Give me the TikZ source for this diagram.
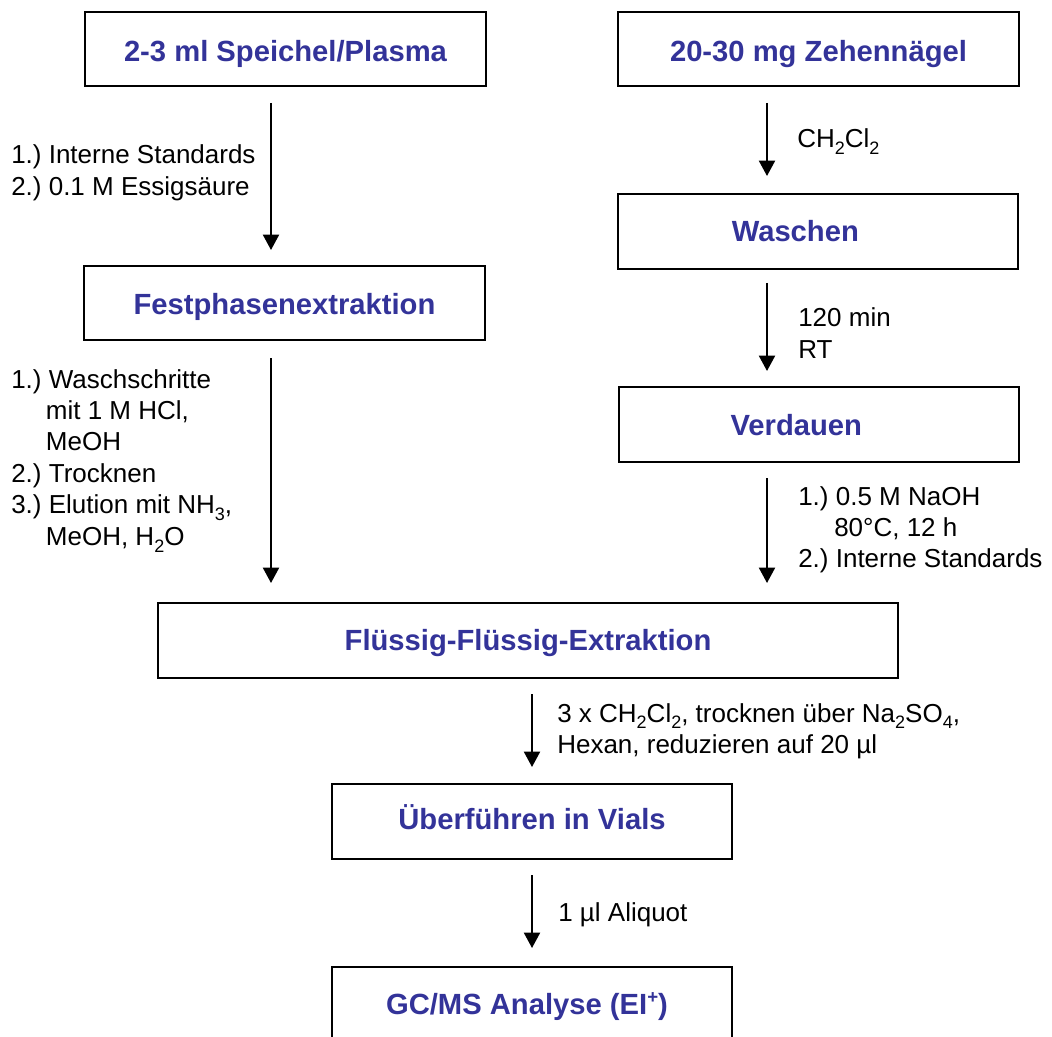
\documentclass[tikz,border=0pt]{standalone}
\usepackage{fontspec}
\setmainfont{Liberation Sans}
\usetikzlibrary{arrows.meta}
\definecolor{tblue}{RGB}{51,51,153}
\frenchspacing
\newcommand\sbs[1]{\raisebox{-5pt}{\fontsize{13.5pt}{13.5pt}\selectfont #1}}
\newcommand\sps[1]{\raisebox{8pt}{\fontsize{14pt}{14pt}\selectfont #1}}
\newcommand\mylines[1]{\begin{tabular}[t]{@{}l@{}}#1\end{tabular}}
\begin{document}
\begin{tikzpicture}[x=0.75pt,y=-0.75pt,
  box/.style={draw=black, line width=1.5pt, inner sep=0pt, text=tblue,
    font=\fontsize{21.9pt}{26pt}\selectfont\bfseries\frenchspacing, text depth=0pt},
  lbl/.style={anchor=base west, inner sep=0pt,
    font=\fontsize{19.5pt}{23.6pt}\selectfont\frenchspacing},
  arr/.style={line width=1.5pt, -{Triangle[length=11.5pt,width=12pt]}}]
\useasboundingbox (0,0) rectangle (1052,1037);
% boxes
\node[box, minimum width=300.75pt, minimum height=55.5pt, text height=19.5pt] (b1) at (285.5,49) {2-3 ml Speichel/Plasma};
\node[box, minimum width=300.75pt, minimum height=55.5pt, text height=19.5pt] (b2) at (818.5,49) {20-30 mg Zehennägel};
\node[box, minimum width=300pt, minimum height=56.25pt, text height=15.75pt] (wa) at (818,231.5) {Waschen\hspace*{34pt}};
\node[box, minimum width=300.75pt, minimum height=55.5pt, text height=18pt] (fe) at (284.5,303) {Festphasenextraktion};
\node[box, minimum width=300pt, minimum height=56.25pt, text height=15.75pt] (ve) at (819,424.5) {Verdauen\hspace*{34pt}};
\node[box, minimum width=555pt, minimum height=56.25pt, text height=14.25pt] (ff) at (528,640.5) {Flüssig-Flüssig-Extraktion};
\node[box, minimum width=300pt, minimum height=56.25pt, text height=12pt] (vi) at (532,821.5) {Überführen in Vials};
\node[box, minimum width=300pt, minimum height=56.25pt, text height=14.25pt] (gc) at (532,1004.5) {GC/MS Analyse (EI\sps{+})\hspace*{7.5pt}};
% arrow columns
\coordinate (xl) at (271,0);
\coordinate (xr) at (767,0);
\coordinate (xc) at (532,0);
% arrows
\draw[arr, shorten <=12pt, shorten >=11.25pt] (b1.south -| xl) -- (fe.north -| xl);
\draw[arr, shorten <=12.75pt, shorten >=14.25pt] (fe.south -| xl) -- (ff.north -| xl);
\draw[arr, shorten <=12pt, shorten >=12.75pt] (b2.south -| xr) -- (wa.north -| xr);
\draw[arr, shorten <=9.75pt, shorten >=11.25pt] (wa.south -| xr) -- (ve.north -| xr);
\draw[arr, shorten <=11.25pt, shorten >=14.25pt] (ve.south -| xr) -- (ff.north -| xr);
\draw[arr, shorten <=11.25pt, shorten >=12pt] (ff.south -| xc) -- (vi.north -| xc);
\draw[arr, shorten <=11.25pt, shorten >=13.5pt] (vi.south -| xc) -- (gc.north -| xc);
% labels
\node[lbl] (l1) at (11,164) {\mylines{1.) Interne Standards\\2.) 0.1 M Essigsäure}};
\node[lbl] (l2) at (11,388) {\mylines{1.) Waschschritte\\\hspace*{26pt}mit 1 M HCl,\\\hspace*{26pt}MeOH\\2.) Trocknen\\3.) Elution mit NH\sbs{3},\\\hspace*{26pt}MeOH, H\sbs{2}O}};
\node[lbl] (r1) at (797,148) {CH\sbs{2}Cl\sbs{2}};
\node[lbl] (r2) at (798,327) {\mylines{120 min\\RT}};
\node[lbl] (r3) at (798,505) {\mylines{1.) 0.5 M NaOH\\\hspace*{27pt}80°C, 12 h\\2.) Interne Standards}};
\node[lbl] (c1) at (557,722) {\mylines{3 x CH\sbs{2}Cl\sbs{2}, trocknen über Na\sbs{2}SO\sbs{4},\\Hexan, reduzieren auf 20 µl}};
\node[lbl] (c2) at (558,921) {1 µl Aliquot};
\end{tikzpicture}
\end{document}
